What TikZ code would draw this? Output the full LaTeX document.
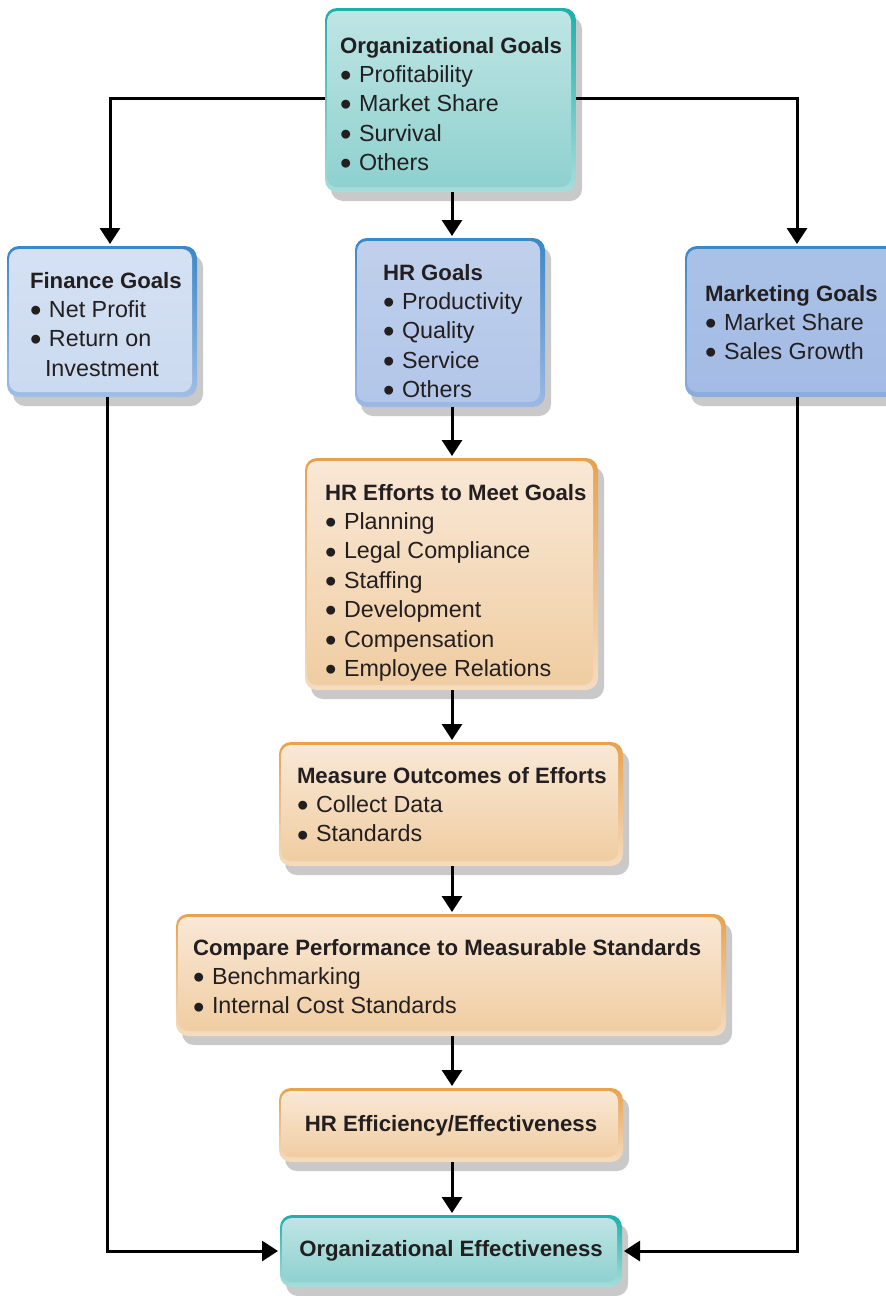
\documentclass[tikz,border=0pt]{standalone}
\usepackage{fontspec}
\setmainfont{Liberation Sans}
\usetikzlibrary{arrows.meta}
\definecolor{ink}{HTML}{231F20}
\definecolor{shadowc}{HTML}{C9C9C9}
% teal
\definecolor{tealB}{HTML}{1BB0AC}
\definecolor{tealL}{HTML}{A8DDDB}
\definecolor{tealT}{HTML}{BEE5E4}
\definecolor{tealM}{HTML}{8ED1CF}
% finance blue
\definecolor{finB}{HTML}{3A87C9}
\definecolor{finL}{HTML}{A0BEE6}
\definecolor{finT}{HTML}{D5E1F3}
\definecolor{finM}{HTML}{CBDAF0}
% HR goals blue
\definecolor{hrgB}{HTML}{3A87C9}
\definecolor{hrgL}{HTML}{9DB9E3}
\definecolor{hrgT}{HTML}{C0D0EC}
\definecolor{hrgM}{HTML}{B2C6E9}
% marketing blue
\definecolor{mkB}{HTML}{3A87C9}
\definecolor{mkL}{HTML}{8DAEDD}
\definecolor{mkT}{HTML}{AAC1E7}
\definecolor{mkM}{HTML}{A4BCE5}
% orange
\definecolor{orB}{HTML}{E8A24E}
\definecolor{orL}{HTML}{F5DCC0}
\definecolor{orT}{HTML}{F9E8D6}
\definecolor{orM}{HTML}{F0CDA2}
\tikzset{
  arr/.style={line width=3pt, draw=black, shorten >=2pt, -{Triangle[width=20pt,length=16pt]}},
  anchorbox/.style={inner sep=0pt, outer sep=0pt, draw=none},
  txt/.style={inner sep=0pt, outer sep=0pt, text=ink, anchor=base west},
}
\newcommand\fancybox[6]{%
  \fill[shadowc, rounded corners=12pt] ({#2+6},{#3+9}) rectangle ({#4+6},{#5+9});
  \shade[rounded corners=12pt, top color=#6B, bottom color=#6L] (#2,#3) rectangle (#4,#5);
  \shade[rounded corners=10pt, top color=#6T, bottom color=#6M] ({#2+2},{#3+3}) rectangle ({#4-5},{#5-5});
  \node[anchorbox, minimum width={(#4-#2)*1pt}, minimum height={(#5-#3)*1pt}] (#1) at ({(#2+#4)/2},{(#3+#5)/2}) {};
}
\newcommand\bitem{\makebox[19pt][l]{\smash{\raisebox{-0.18em}{\scalebox{1.4}{•}}}}}
\newcommand\ttl[1]{{\fontsize{22.2}{29.4}\selectfont\bfseries #1}}
\newcommand\blk[1]{\parbox[t]{700pt}{\fontsize{23.3}{29.4}\selectfont\raggedright #1}}
\begin{document}
\begin{tikzpicture}[x=1pt,y=-1pt]
\useasboundingbox (0,0) rectangle (886,1296);
\fill[white] (0,0) rectangle (886,1296);

\fancybox{og}{325}{8}{576}{192}{teal}
\fancybox{fin}{7}{246}{197}{397}{fin}
\fancybox{hrg}{355}{238}{545}{407}{hrg}
\fancybox{mk}{685}{246}{905}{397}{mk}
\fancybox{eff}{305}{458}{598}{690}{or}
\fancybox{meas}{279}{742}{623}{866}{or}
\fancybox{cmp}{176}{914}{726}{1036}{or}
\fancybox{hre}{279}{1088}{623}{1162}{or}
\fancybox{oe}{280}{1215}{622}{1287}{teal}

\node[txt] (og-t) at (340,53) {\blk{\ttl{Organizational Goals}\\ \bitem Profitability\\ \bitem Market Share\\ \bitem Survival\\ \bitem Others}};
\node[txt] (fin-t) at (30,288) {\blk{\ttl{Finance Goals}\\ \bitem Net Profit\\ \bitem Return on\\ \hspace*{15pt}Investment}};
\node[txt] (hrg-t) at (383,280) {\blk{\ttl{HR Goals}\\ \bitem Productivity\\ \bitem Quality\\ \bitem Service\\ \bitem Others}};
\node[txt] (mk-t) at (705,301) {\blk{\ttl{Marketing Goals}\\ \bitem Market Share\\ \bitem Sales Growth}};
\node[txt] (eff-t) at (325,500) {\blk{\ttl{HR Efforts to Meet Goals}\\ \bitem Planning\\ \bitem Legal Compliance\\ \bitem Staffing\\ \bitem Development\\ \bitem Compensation\\ \bitem Employee Relations}};
\node[txt] (meas-t) at (297,783) {\blk{\ttl{Measure Outcomes of Efforts}\\ \bitem Collect Data\\ \bitem Standards}};
\node[txt] (cmp-t) at (193,955) {\blk{\ttl{Compare Performance to Measurable Standards}\\ \bitem Benchmarking\\ \bitem Internal Cost Standards}};
\node[txt, anchor=base] (hre-t) at (451,1131) {\ttl{HR Efficiency/Effectiveness}};
\node[txt, anchor=base] (oe-t) at (451,1256) {\ttl{Organizational Effectiveness}};

\draw[arr] ([yshift=2pt]og.west) -| (fin.north -| 110,0);
\draw[arr] ([yshift=2pt]og.east) -| (mk.north -| 797,0);
\draw[arr] (og.south -| 452,0) -- (hrg.north -| 452,0);
\draw[arr] (hrg.south -| 452,0) -- (eff.north -| 452,0);
\draw[arr] (eff.south -| 452,0) -- (meas.north -| 452,0);
\draw[arr] (meas.south -| 452,0) -- (cmp.north -| 452,0);
\draw[arr] (cmp.south -| 452,0) -- (hre.north -| 452,0);
\draw[arr] (hre.south -| 452,0) -- (oe.north -| 452,0);
\draw[arr] (fin.south -| 107,0) |- (oe.west);
\draw[arr] (mk.south -| 797,0) |- (oe.east);
\end{tikzpicture}
\end{document}
